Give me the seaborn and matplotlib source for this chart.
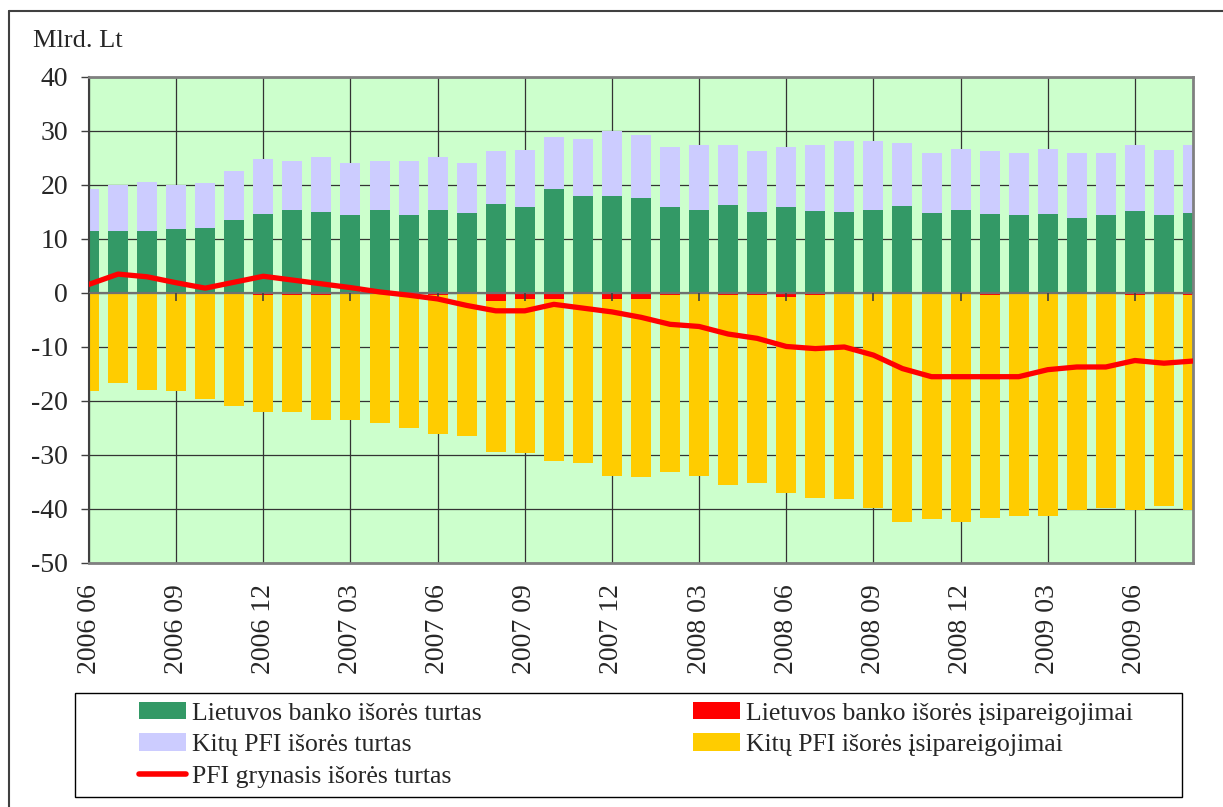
import matplotlib
matplotlib.use("Agg")
import matplotlib.pyplot as plt
from matplotlib.lines import Line2D
from matplotlib.patches import Patch, Rectangle
import numpy as np
import seaborn as sns

months = ["2006 06", "2006 07", "2006 08", "2006 09", "2006 10", "2006 11", "2006 12",
          "2007 01", "2007 02", "2007 03", "2007 04", "2007 05", "2007 06",
          "2007 07", "2007 08", "2007 09", "2007 10", "2007 11", "2007 12",
          "2008 01", "2008 02", "2008 03", "2008 04", "2008 05", "2008 06",
          "2008 07", "2008 08", "2008 09", "2008 10", "2008 11", "2008 12",
          "2009 01", "2009 02", "2009 03", "2009 04", "2009 05", "2009 06",
          "2009 07", "2009 08"]

# Lietuvos banko išorės turtas
lb_assets = [11.5, 11.5, 11.5, 11.85, 12.0, 13.5, 14.6, 15.4, 15.0, 14.4, 15.4, 14.4, 15.4,
             14.8, 16.5, 15.9, 19.3, 18.0, 18.0, 17.6, 15.9, 15.4, 16.3, 15.0, 15.9,
             15.2, 15.0, 15.4, 16.1, 14.8, 15.4, 14.6, 14.4, 14.6, 13.9, 14.4, 15.2,
             14.4, 14.8]
# Kitų PFI išorės turtas
other_assets = [7.8, 8.5, 9.1, 8.15, 8.4, 9.1, 10.2, 9.0, 10.2, 9.7, 9.0, 10.0, 9.8,
                9.3, 9.8, 10.6, 9.6, 10.5, 12.0, 11.7, 11.1, 12.0, 11.1, 11.3, 11.1,
                12.2, 13.1, 12.7, 11.7, 11.1, 11.3, 11.7, 11.5, 12.1, 12.0, 11.5, 12.2,
                12.1, 12.6]
# Lietuvos banko išorės įsipareigojimai
lb_liab = [0.0, 0.0, 0.0, 0.0, 0.0, 0.0, -0.3, -0.3, -0.3, 0.0, 0.0, -0.1, -0.3,
           0.0, -1.5, -1.2, -1.2, 0.0, -1.2, -1.2, -0.3, -0.1, -0.3, -0.3, -0.8,
           -0.3, 0.0, 0.0, 0.0, 0.0, 0.0, -0.3, 0.0, 0.0, 0.0, 0.0, -0.3,
           0.0, -0.3]
# Kitų PFI išorės įsipareigojimai
other_liab = [-18.1, -16.7, -18.0, -18.1, -19.6, -20.9, -21.7, -21.7, -23.2, -23.5, -24.1, -24.9, -25.8,
              -26.5, -27.9, -28.4, -29.9, -31.5, -32.7, -32.9, -32.9, -33.8, -35.2, -34.8, -36.2,
              -37.6, -38.2, -39.8, -42.4, -41.8, -42.4, -41.3, -41.3, -41.3, -40.2, -39.8, -39.9,
              -39.4, -39.9]
# PFI grynasis išorės turtas
net_assets = [1.6, 3.5, 3.0, 1.9, 0.9, 2.0, 3.1, 2.4, 1.7, 1.0, 0.2, -0.4, -1.1,
              -2.3, -3.3, -3.3, -2.1, -2.8, -3.5, -4.5, -5.8, -6.2, -7.6, -8.4, -9.9,
              -10.3, -10.0, -11.5, -14.0, -15.5, -15.5, -15.5, -15.5, -14.2, -13.7, -13.7, -12.5,
              -13.0, -12.6]

labels = ["Lietuvos banko išorės turtas", "Kitų PFI išorės turtas",
          "PFI grynasis išorės turtas",
          "Lietuvos banko išorės įsipareigojimai", "Kitų PFI išorės įsipareigojimai"]
c_green, c_lav, c_red, c_yel = "#339966", "#CCCCFF", "#FF0000", "#FFCC00"

sns.set_theme(style="white")
plt.rcParams['font.family'] = ['Liberation Serif', 'DejaVu Serif']
plt.rcParams['axes.unicode_minus'] = False

W, H = 1223, 807
fig = plt.figure(figsize=(W / 100, H / 100), dpi=100)
ax = fig.add_axes([89 / W, 1 - 563 / H, (1193 - 89) / W, (563 - 77) / H])
ax.set_facecolor("#CCFFCC")

assets_total = np.add(lb_assets, other_assets)
liab_total = np.add(lb_liab, other_liab)
x = np.arange(len(months))

bar_kw = dict(saturation=1, width=0.69, linewidth=0, errorbar=None, ax=ax, zorder=2)
sns.barplot(x=months, y=assets_total, color=c_lav, **bar_kw)
sns.barplot(x=months, y=lb_assets, color=c_green, **bar_kw)
sns.barplot(x=months, y=liab_total, color=c_yel, **bar_kw)
sns.barplot(x=months, y=lb_liab, color=c_red, **bar_kw)

ax.axhline(0, color="#707070", lw=1.6, zorder=3)
# small category ticks on the zero line
ax.plot(x[::3], np.zeros(len(x[::3])), ls="none", marker=3, markersize=6,
        markeredgewidth=1.2, color="#404040", zorder=3)

sns.lineplot(x=x, y=net_assets, color=c_red, linewidth=3.8, ax=ax, zorder=4,
             legend=False)

ax.set_xlim(0, len(months) - 1)
ax.set_ylim(-50, 40)
ax.set_yticks(range(-50, 41, 10))
ax.set_xticks(x[::3], labels=months[::3])
ax.set_xlabel("")
ax.set_ylabel("")
ax.set_axisbelow(True)
ax.grid(True, color="#333333", lw=0.9)
ax.tick_params(axis="x", length=0, pad=15, labelsize=20, rotation=90)
ax.tick_params(axis="y", length=6, width=1, color="#404040", pad=9, labelsize=20, left=True)
for s in ["top", "right", "bottom"]:
    ax.spines[s].set_color("#808080")
    ax.spines[s].set_linewidth(2)
ax.spines["left"].set_color("#404040")
ax.spines["left"].set_linewidth(1.5)

fig.text(33 / W, 1 - 41 / H, "Mlrd. Lt", fontsize=19, va="center")

# outer chart frame
fig.add_artist(Line2D([9 / W, 1], [1 - 11 / H, 1 - 11 / H], transform=fig.transFigure,
                      color="#404040", lw=1.5))
fig.add_artist(Line2D([9 / W, 9 / W], [0, 1 - 11 / H], transform=fig.transFigure,
                      color="#404040", lw=1.5))

# legend
fig.add_artist(Rectangle((75 / W, 1 - 797 / H), (1182 - 75) / W, (797 - 693) / H,
                         transform=fig.transFigure, fill=False, ec="black", lw=1))
h_green = Patch(facecolor=c_green, edgecolor="none")
h_lav = Patch(facecolor=c_lav, edgecolor="none")
h_line = Line2D([], [], color=c_red, lw=4, solid_capstyle="round")
h_red = Patch(facecolor=c_red, edgecolor="none")
h_yel = Patch(facecolor=c_yel, edgecolor="none")
leg_kw = dict(loc="upper left", frameon=False, fontsize=18.5, handlelength=1.83,
              handleheight=0.66, handletextpad=0.25, labelspacing=0.34,
              borderpad=0, borderaxespad=0)
fig.legend(handles=[h_green, h_lav, h_line], labels=labels[:3],
           bbox_to_anchor=(139 / W, 1 - 702 / H), **leg_kw)
fig.legend(handles=[h_red, h_yel], labels=labels[3:],
           bbox_to_anchor=(693 / W, 1 - 702 / H), **leg_kw)

plt.savefig("out.png", dpi=100)
